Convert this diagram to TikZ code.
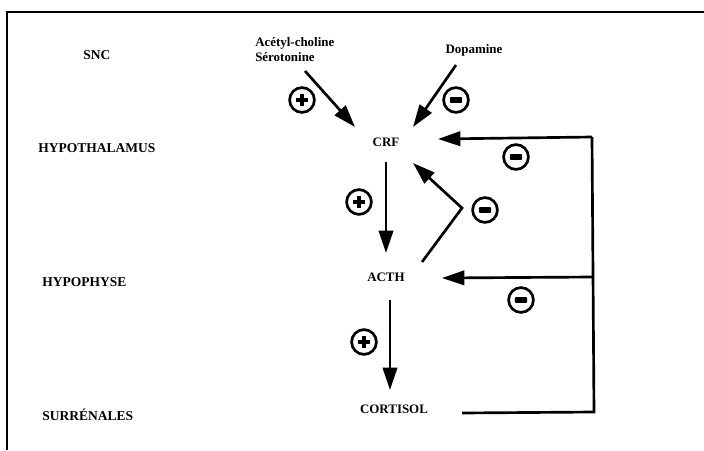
\documentclass[tikz,border=0pt]{standalone}
\usepackage{fontspec}
\setmainfont{Liberation Serif}
\usetikzlibrary{arrows.meta}

\begin{document}
\begin{tikzpicture}[x=0.025cm,y=0.025cm,
	lvl/.style={anchor=west,inner sep=0pt,font=\fontsize{9.6}{11}\selectfont\bfseries},
	horm/.style={inner sep=0pt,font=\fontsize{9.2}{10.5}\selectfont\bfseries},
	arr/.style={line width=1.9pt,-{Triangle[length=5.6mm,width=3.6mm]}},
	fb/.style={line width=1.9pt,line join=miter},
	sgn/.style={circle,draw,line width=1.9pt,minimum size=0.62cm,inner sep=0pt},
	plussign/.style={sgn,path picture={
		\draw[line width=2.6pt] ([xshift=-4.2pt]path picture bounding box.center) -- ([xshift=4.2pt]path picture bounding box.center)
		([yshift=-4.2pt]path picture bounding box.center) -- ([yshift=4.2pt]path picture bounding box.center);}},
	minussign/.style={sgn,path picture={
		\fill[rounded corners=0.6pt] ([shift={(-4.3pt,-2.1pt)}]path picture bounding box.center) rectangle ([shift={(4.3pt,2.1pt)}]path picture bounding box.center);}}
	]
	\useasboundingbox (0,0) rectangle (704,450);
	\draw[line width=1.4pt] (704,438) -- (7,438) -- (7,0); % frame
	% levels
	\node[lvl] (snc) at (83,395) {SNC};
	\node[lvl] (hypoth) at (38,302) {HYPOTHALAMUS};
	\node[lvl] (hypoph) at (42,168) {HYPOPHYSE};
	\node[lvl] (surr) at (42,35) {SURRÉNALES};
	% hormones
	\node[horm,align=left,anchor=south west] (ach) at (255,388) {Acétyl-choline\\Sérotonine};
	\node[horm] (dopa) at (474,400) {Dopamine};
	\node[horm] (crf) at (386,308) {CRF};
	\node[horm] (acth) at (386,173) {ACTH};
	\node[horm] (cort) at (394,41) {CORTISOL};
	% signs
	\node[plussign] (p1) at (302,350) {};
	\node[minussign] (m1) at (456,350) {};
	\node[minussign] (m2) at (516,293) {};
	\node[plussign] (p2) at (359,248) {};
	\node[minussign] (m3) at (485,240) {};
	\node[minussign] (m4) at (521,150) {};
	\node[plussign] (p3) at (364,108) {};
	\coordinate (knee) at (462,242);
	\coordinate (fbb) at (594,38);
	\coordinate (fbt) at (592,313);
	\coordinate (fbm) at (593,173);
	% arrows
	\draw[arr] ([shift={(50,-9)}]ach.south west) -- ([shift={(-31,15)}]crf.center);
	\draw[arr] ([shift={(-18,-15)}]dopa.center) -- ([shift={(27,15)}]crf.center);
	\draw[arr] ([shift={(0,-20)}]crf.center) -- ([shift={(0,24)}]acth.center);
	\draw[arr] ([shift={(4,-23)}]acth.center) -- ([shift={(-4,19)}]cort.center);
	\draw[arr,line join=miter] ([shift={(36,15)}]acth.center) -- (knee) -- ([shift={(27,-21)}]crf.center);
	\draw[fb] ([shift={(68,-4)}]cort.center) -- (fbb) -- (fbt);
	\draw[arr] (fbt) -- ([shift={(52,3)}]crf.center);
	\draw[arr] (fbm) -- ([shift={(56,-1)}]acth.center);
\end{tikzpicture}
\end{document}
